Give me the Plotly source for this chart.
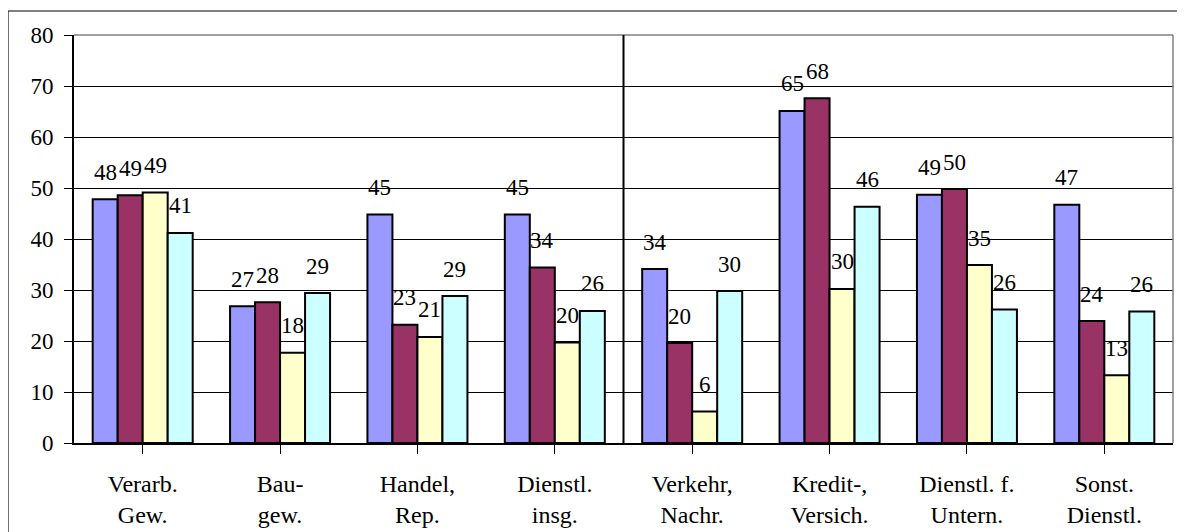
import plotly.graph_objects as go

categories = ["Verarb.<br>Gew.", "Bau-<br>gew.", "Handel,<br>Rep.", "Dienstl.<br>insg.",
              "Verkehr,<br>Nachr.", "Kredit-,<br>Versich.", "Dienstl. f.<br>Untern.", "Sonst.<br>Dienstl."]
series_1 = [47.8, 26.8, 44.8, 44.8, 34.1, 65.1, 48.7, 46.7]
series_2 = [48.6, 27.6, 23.2, 34.4, 19.6, 67.6, 49.8, 23.9]
series_3 = [49.1, 17.7, 20.8, 19.7, 6.2, 30.2, 34.9, 13.3]
series_4 = [41.2, 29.4, 28.8, 25.9, 29.8, 46.3, 26.2, 25.8]
series_names = ["Reihe 1", "Reihe 2", "Reihe 3", "Reihe 4"]
y_ticks = [0, 10, 20, 30, 40, 50, 60, 70, 80]

colors = ["#9999FF", "#993366", "#FFFFCC", "#CCFFFF"]
FONT = "Liberation Serif"
BARGAP = 0.272

all_series = [series_1, series_2, series_3, series_4]
fig = go.Figure()
for name, vals, col in zip(series_names, all_series, colors):
    fig.add_trace(go.Bar(x=list(range(len(categories))), y=vals, name=name,
                         marker=dict(color=col, line=dict(color="black", width=2)),
                         showlegend=False))

# data labels centred above each bar
n = len(all_series)
bw = (1 - BARGAP) / n
annotations = []
for j, vals in enumerate(all_series):
    off = (-(n - 1) / 2 + j) * bw
    for i, v in enumerate(vals):
        annotations.append(dict(x=i + off, y=v, xref="x", yref="y", text=str(int(round(v))),
                                showarrow=False, yanchor="middle", xanchor="center", yshift=27,
                                font=dict(family=FONT, size=23, color="black")))

shapes = [
    # outer chart border (cropped)
    dict(type="rect", xref="paper", yref="paper", x0=-0.06, x1=1.05, y0=-0.4, y1=1.0588,
         line=dict(color="black", width=1), fillcolor="rgba(0,0,0,0)", layer="below"),
    # gray plot-area border top/right
    dict(type="line", xref="paper", yref="paper", x0=0, x1=1, y0=1, y1=1,
         line=dict(color="#808080", width=1.5), layer="above"),
    dict(type="line", xref="paper", yref="paper", x0=1, x1=1, y0=0, y1=1,
         line=dict(color="#808080", width=1.5), layer="above"),
    # separator between groups
    dict(type="line", xref="x", yref="paper", x0=3.5, x1=3.5, y0=0, y1=1,
         line=dict(color="black", width=2), layer="above"),
]

fig.update_layout(
    width=1177, height=524,
    margin=dict(l=66, r=12, t=27, b=89, autoexpand=False),
    paper_bgcolor="white", plot_bgcolor="white",
    barmode="group", bargap=BARGAP, bargroupgap=0,
    annotations=annotations, shapes=shapes,
    font=dict(family=FONT, color="black"),
    xaxis=dict(tickmode="array", tickvals=list(range(len(categories))), ticktext=categories,
               range=[-0.5, len(categories) - 0.5], automargin=False,
               showline=True, linecolor="black", linewidth=2,
               ticks="outside", ticklen=9, tickcolor="black", tickwidth=1,
               showgrid=False, zeroline=False, ticklabelstandoff=9,
               tickfont=dict(family=FONT, size=24, color="black")),
    yaxis=dict(range=[0, 80], tickvals=y_ticks, showline=True, linecolor="black", linewidth=2,
               ticks="outside", ticklen=8, tickcolor="black", tickwidth=1, automargin=False,
               showgrid=True, gridcolor="black", gridwidth=1, zeroline=False,
               ticklabelstandoff=6,
               tickfont=dict(family=FONT, size=23, color="black")),
)

# x ticks at category boundaries
fig.update_xaxes(tickson="boundaries")

fig.write_html("out.html")
